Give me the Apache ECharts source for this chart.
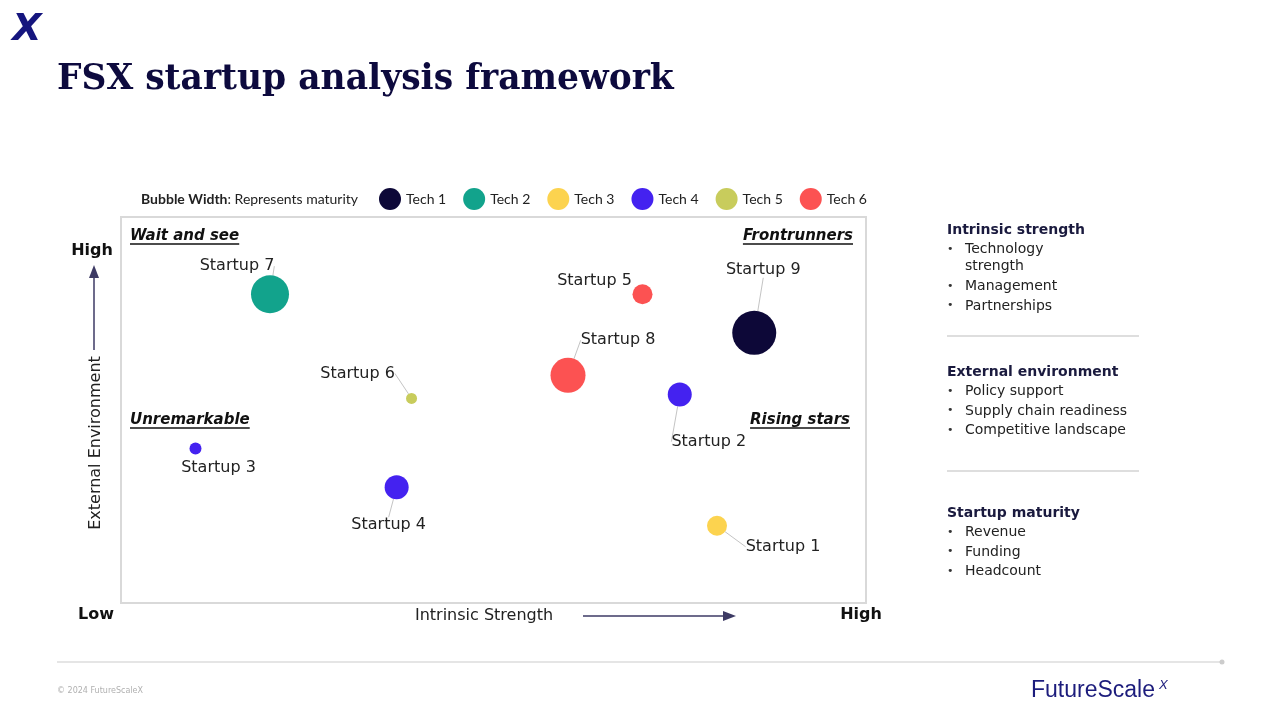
<!DOCTYPE html>
<html><head><meta charset="utf-8">
<script src="https://cdn.jsdelivr.net/npm/echarts@6/dist/echarts.min.js"></script>
<style>html,body{margin:0;padding:0;background:#fff}#c{width:1280px;height:720px}</style>
</head><body><div id="c"></div>
<script>
// ---- data ----
const startups   = ['Startup 1','Startup 2','Startup 3','Startup 4','Startup 5','Startup 6','Startup 7','Startup 8','Startup 9'];
const techOf     = ['Tech 3','Tech 4','Tech 4','Tech 4','Tech 6','Tech 5','Tech 2','Tech 6','Tech 1'];
const intrinsic  = [80, 75, 10, 37, 70, 39, 20, 60, 85];   // x: Intrinsic Strength (0-100)
const external   = [20, 54, 40, 30, 80, 53, 80, 59, 70];   // y: External Environment (0-100)
const maturity   = [20, 24, 12, 24, 20, 11, 38, 35, 44];   // bubble width
const techs      = ['Tech 1','Tech 2','Tech 3','Tech 4','Tech 5','Tech 6'];
const quadrants  = ['Wait and see','Frontrunners','Unremarkable','Rising stars'];
const panelHeads = ['Intrinsic strength','External environment','Startup maturity'];
const panelItems = [['Technology\nstrength','Management','Partnerships'],
                    ['Policy support','Supply chain readiness','Competitive landscape'],
                    ['Revenue','Funding','Headcount']];

// ---- styles ----
const techColors = {'Tech 1':'#0d0838','Tech 2':'#12a38c','Tech 3':'#fcd34f','Tech 4':'#4422f0','Tech 5':'#c8cc5c','Tech 6':'#fc5252'};
const labelOffsets = {'Startup 1':[66,21],'Startup 2':[29,47],'Startup 3':[23,19],'Startup 4':[-8,38],'Startup 5':[-48,-13],
                      'Startup 6':[-54,-25],'Startup 7':[-33,-28],'Startup 8':[50,-35],'Startup 9':[9,-63]};
const noLine = {'Startup 3':true,'Startup 5':true};
const NAVY = '#0d0a3e', ARROW = '#3d3a64';
const SANS = 'DejaVu Sans';

const cv = document.createElement('canvas').getContext('2d');
function tw(text, font){ cv.font = font; return cv.measureText(text).width; }

const series = techs.map(t => ({
  name: t, type: 'scatter',
  itemStyle: {color: techColors[t], opacity: 1},
  symbolSize: v => v[2],
  label: {show: true, position: 'inside', formatter: p => p.name, color: '#222', fontSize: 16, fontFamily: SANS},
  labelLine: {show: true, lineStyle: {color: '#c4c4c4', width: 1}},
  labelLayout: p => { const o = labelOffsets[p.text] || [0,0]; return {dx: o[0], dy: o[1]}; },
  emphasis: {disabled: true},
  data: startups.map((s,i)=>i).filter(i => techOf[i] === t).map(i => ({
    name: startups[i], value: [intrinsic[i], external[i], maturity[i]],
    labelLine: {show: !noLine[startups[i]]}
  }))
}));

const graphics = [];
// logo
graphics.push({type:'text', x:27, y:30, style:{text:'X', font:'italic bold 38px "DejaVu Sans"', fill:'#15157e', align:'center', verticalAlign:'middle'}});
// title
(function(){
  const txt = 'FSX startup analysis framework';
  const w = tw(txt, 'bold 36px "DejaVu Serif"'); const size = 36*616/w;
  graphics.push({type:'text', x:57, y:80, style:{text:txt, font:'bold '+size.toFixed(1)+'px "DejaVu Serif"', fill:NAVY, verticalAlign:'middle'}});
})();
// legend caption
graphics.push({type:'text', x:141, y:199, style:{
  text:'{b|Bubble Width}: Represents maturity', verticalAlign:'middle', font:'14px Lato', fill:'#222',
  rich:{b:{fontWeight:'bold', fontFamily:'Lato', fontSize:14, fill:'#222'}}}});
// quadrant labels with underline
const qFont = 'italic bold 15px "DejaVu Sans"';
const qPos = [[130,236,'left'],[853,236,'right'],[130,420,'left'],[850,420,'right']];
quadrants.forEach((q,i)=>{
  const [x,y,al] = qPos[i]; const w = tw(q, qFont);
  graphics.push({type:'text', x:x, y:y, style:{text:q, font:qFont, fill:'#111', align:al, verticalAlign:'middle'}});
  const x0 = al==='left' ? x : x - w;
  graphics.push({type:'line', shape:{x1:x0, y1:y+8, x2:x0+w, y2:y+8}, style:{stroke:'#111', lineWidth:1.3}});
});
// axis annotations
const bFont = 'bold 16px "DejaVu Sans"';
graphics.push({type:'text', x:92, y:251, style:{text:'High', font:bFont, fill:'#111', align:'center', verticalAlign:'middle'}});
graphics.push({type:'text', x:96, y:615, style:{text:'Low', font:bFont, fill:'#111', align:'center', verticalAlign:'middle'}});
graphics.push({type:'text', x:861, y:615, style:{text:'High', font:bFont, fill:'#111', align:'center', verticalAlign:'middle'}});
graphics.push({type:'line', shape:{x1:94,y1:350,x2:94,y2:276}, style:{stroke:ARROW, lineWidth:1.5}});
graphics.push({type:'polygon', shape:{points:[[94,265],[89,278],[99,278]]}, style:{fill:ARROW}});
graphics.push({type:'text', x:96, y:443, rotation:Math.PI/2, style:{text:'External Environment', font:'16px "DejaVu Sans"', fill:'#222', align:'center', verticalAlign:'middle'}});
graphics.push({type:'text', x:484, y:616, style:{text:'Intrinsic Strength', font:'16px "DejaVu Sans"', fill:'#222', align:'center', verticalAlign:'middle'}});
graphics.push({type:'line', shape:{x1:583,y1:616,x2:724,y2:616}, style:{stroke:ARROW, lineWidth:1.5}});
graphics.push({type:'polygon', shape:{points:[[736,616],[723,611],[723,621]]}, style:{fill:ARROW}});
// right panel
const headY = [230, 372, 513];
panelHeads.forEach((h,i)=>{
  graphics.push({type:'text', x:947, y:headY[i], style:{text:h, font:'bold 14px "DejaVu Sans"', fill:'#1a1a3e', verticalAlign:'middle'}});
  let y = headY[i] + 19;
  panelItems[i].forEach(it=>{
    graphics.push({type:'text', x:947, y:y, style:{text:'•', font:'11px "DejaVu Sans"', fill:'#333', verticalAlign:'middle'}});
    graphics.push({type:'text', x:965, y:y-8, style:{text:it, font:'14px "DejaVu Sans"', fill:'#222', verticalAlign:'top', lineHeight:17}});
    y += it.indexOf('\n')>=0 ? 37 : 19.5;
  });
});
[336, 471].forEach(y=>graphics.push({type:'line', shape:{x1:947,y1:y,x2:1139,y2:y}, style:{stroke:'#bdbdbd', lineWidth:1}}));
// footer
graphics.push({type:'line', shape:{x1:57,y1:662,x2:1222,y2:662}, style:{stroke:'#dddddd', lineWidth:1.5}});
graphics.push({type:'circle', shape:{cx:1222,cy:662,r:2.5}, style:{fill:'#cccccc'}});
graphics.push({type:'text', x:57, y:691, style:{text:'© 2024 FutureScaleX', font:'8px "DejaVu Sans"', fill:'#b0b0b0', verticalAlign:'middle'}});
graphics.push({type:'text', x:1031, y:691, style:{text:'FutureScale', font:'23px "Liberation Sans"', fill:'#1c1c7c', verticalAlign:'middle'}});
graphics.push({type:'text', x:1159, y:685, style:{text:'X', font:'italic 13px "Liberation Sans"', fill:'#1c1c7c', verticalAlign:'middle'}});

const chart = echarts.init(document.getElementById('c'));
chart.setOption({
  animation: false,
  backgroundColor: '#fff',
  grid: {left:121, top:217, width:745, height:386, show:true, borderColor:'#d9d9d9', borderWidth:2, backgroundColor:'#fff'},
  xAxis: {type:'value', min:0, max:100, show:false},
  yAxis: {type:'value', min:0, max:100, show:false},
  legend: {left:374, top:183, itemWidth:22, itemHeight:22, itemGap:17, icon:'circle', data:techs,
           textStyle:{fontFamily:'Lato', fontSize:14, color:'#222'}, selectedMode:false},
  graphic: graphics,
  series: series
});
</script></body></html>
